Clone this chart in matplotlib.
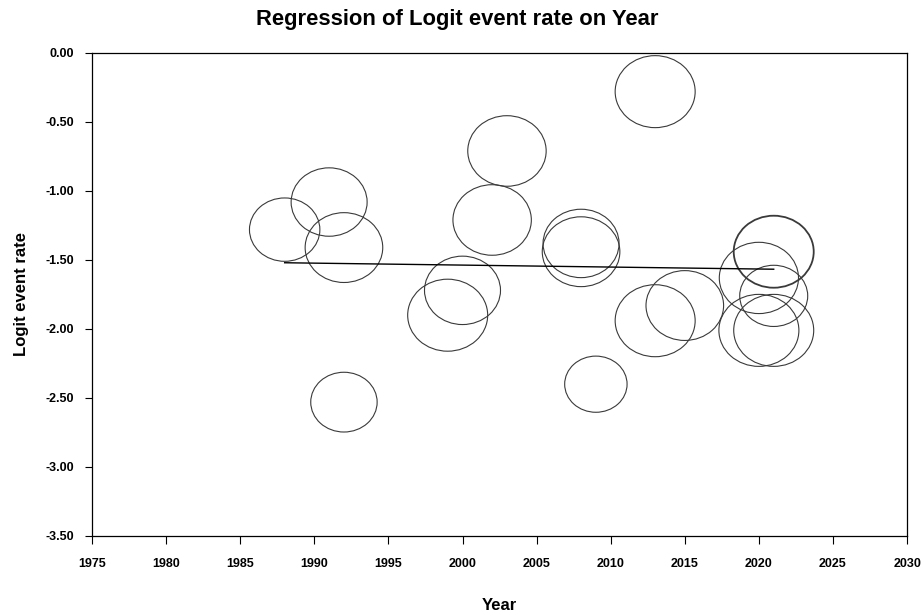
import matplotlib.pyplot as plt
from matplotlib.patches import Ellipse

plt.rcParams['font.family'] = ['Liberation Sans', 'DejaVu Sans']

# Study years, logit event rates and relative weights (bubble size)
years = [1988, 1991, 1992, 1992, 1999, 2000, 2002, 2003, 2008, 2008,
         2009, 2013, 2013, 2015, 2020, 2021, 2021, 2021, 2020, 2021]
logit_rate = [-1.28, -1.08, -1.41, -2.53, -1.90, -1.72, -1.21, -0.71, -1.38, -1.44,
              -2.40, -0.28, -1.94, -1.83, -1.63, -1.44, -1.44, -1.76, -2.01, -2.01]
weights = [0.88, 0.95, 0.97, 0.83, 1.00, 0.95, 0.98, 0.98, 0.95, 0.97,
           0.78, 1.00, 1.00, 0.97, 0.99, 1.00, 1.00, 0.85, 1.00, 1.00]

# Meta-regression fit
intercept = 1.303
slope = -0.00142

x_ticks = list(range(1975, 2031, 5))
y_ticks = [0.0, -0.5, -1.0, -1.5, -2.0, -2.5, -3.0, -3.5]

fig = plt.figure(figsize=(9.21, 6.12), dpi=100)
ax = fig.add_axes([0.0999, 0.1242, 0.8850, 0.7892])
ax.set_xlim(1975, 2030)
ax.set_ylim(-3.5, 0.0)

# bubble size in data units (wider in years than tall in logit units)
max_w = 80 / 14.82
max_h = 72 / 138.0
seen = {}
for x, y, w in zip(years, logit_rate, weights):
    key = (x, y)
    seen[key] = seen.get(key, 0) + 1
for (x, y), n in seen.items():
    w = max(wt for xx, yy, wt in zip(years, logit_rate, weights) if xx == x and yy == y)
    e = Ellipse((x, y), width=w * max_w, height=w * max_h, fill=False,
                edgecolor='#3a3a3a', linewidth=0.8 + 0.5 * (n - 1))
    ax.add_patch(e)

x0, x1 = min(years), max(years)
ax.plot([x0, x1], [intercept + slope * x0, intercept + slope * x1],
        color='black', linewidth=1.0)

ax.set_xticks(x_ticks)
ax.set_xticklabels([str(t) for t in x_ticks], fontweight='bold', fontsize=9)
ax.set_yticks(y_ticks)
ax.set_yticklabels([f"{t:.2f}" for t in y_ticks], fontweight='bold', fontsize=9)
ax.tick_params(axis='x', direction='out', length=6, pad=10, width=0.8)
ax.tick_params(axis='y', direction='out', length=5, pad=8, width=0.8)
for s in ax.spines.values():
    s.set_linewidth(0.9)

ax.set_xlabel("Year", fontweight='bold', fontsize=12, labelpad=20)
ax.set_ylabel("Logit event rate", fontweight='bold', fontsize=12, labelpad=12)
fig.text(0.497, 0.968, "Regression of Logit event rate on Year", fontweight='bold',
         fontsize=15.8, ha='center', va='center')

plt.savefig("out.png", dpi=100)
